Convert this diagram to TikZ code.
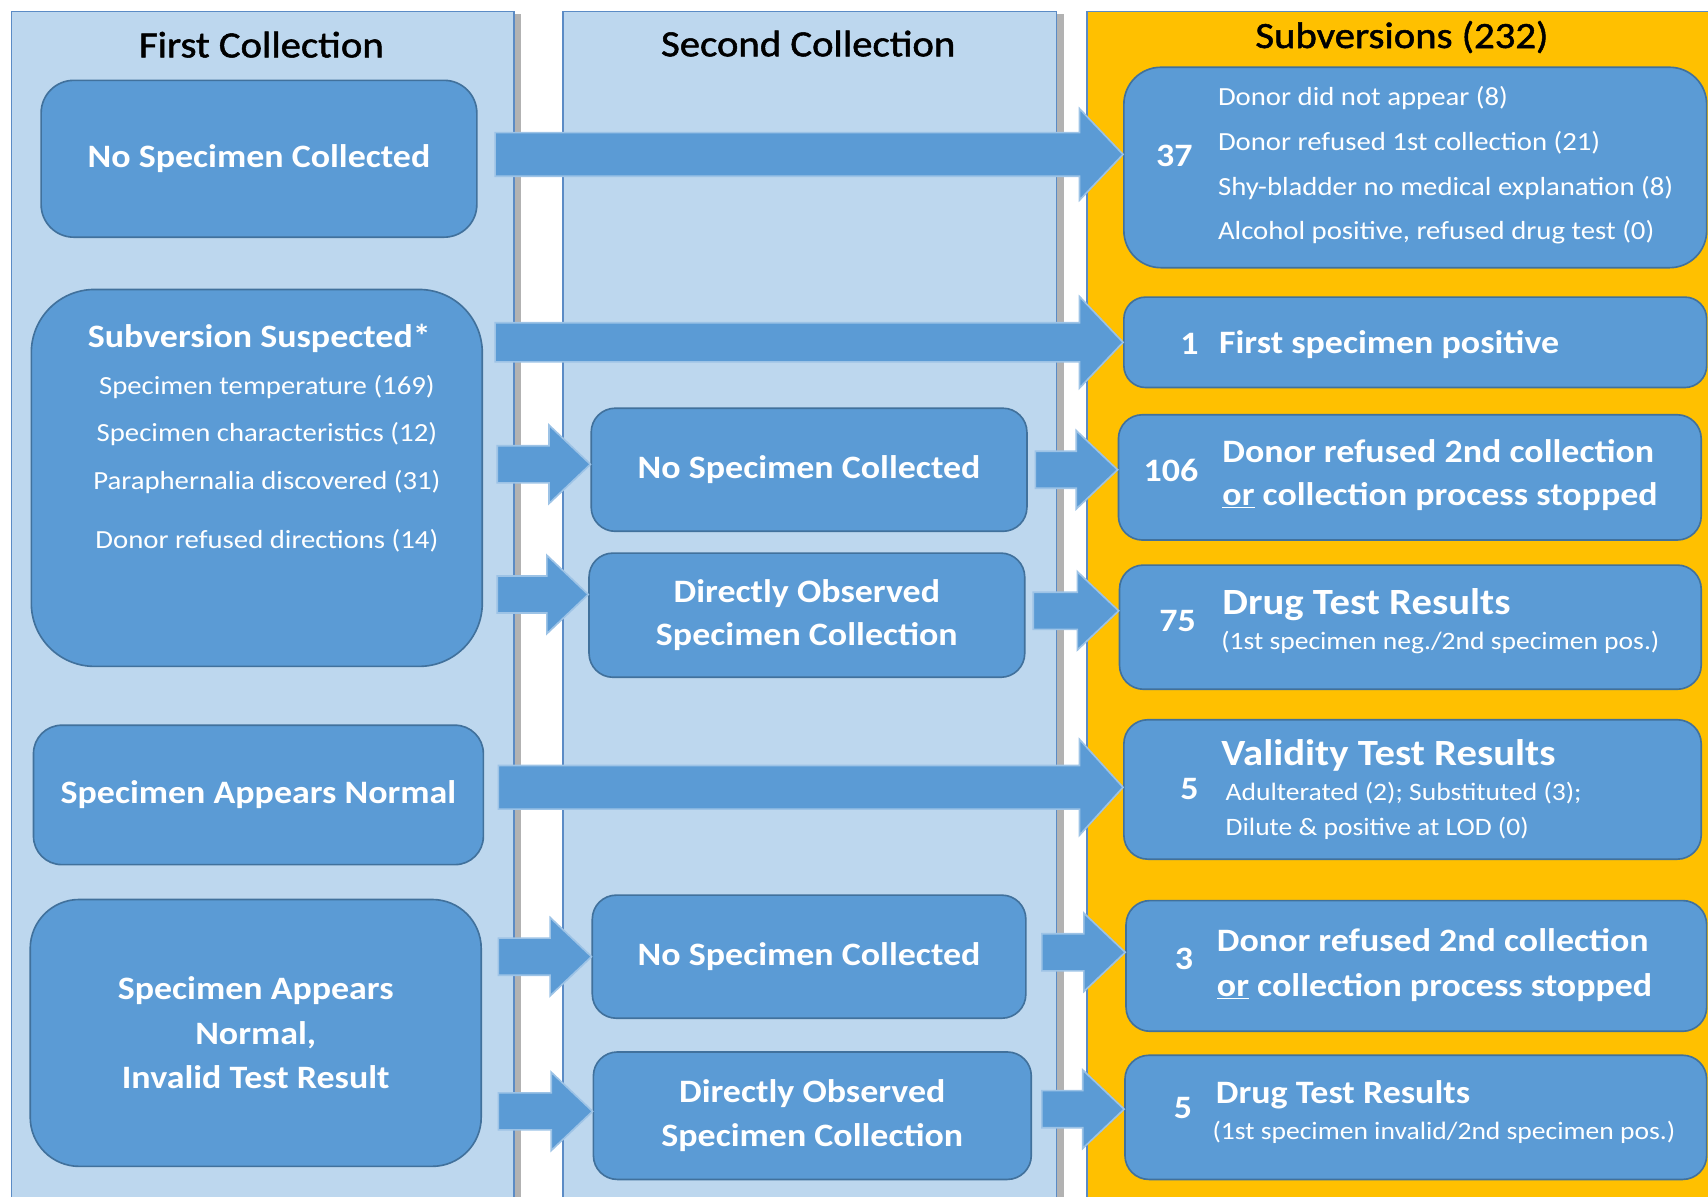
\documentclass[tikz,border=0pt]{standalone}
\usepackage{fontspec}
\setmainfont{Carlito}[FakeStretch=1.1]
\newfontfamily\lanefamily{Carlito}[FakeStretch=1.1, FakeBold=1.4]
\usetikzlibrary{calc, shadows}
\definecolor{lanefill}{HTML}{BDD7EE}
\definecolor{laneedge}{HTML}{5B8BC5}
\definecolor{boxblue}{HTML}{5B9BD5}
\definecolor{boxedge}{HTML}{41719C}
\definecolor{arrowedge}{HTML}{9DC3E6}
\definecolor{gold}{HTML}{FFC000}
\tikzset{
  lane/.style={draw=laneedge, line width=1.4pt, fill=lanefill,
    drop shadow={shadow xshift=7pt, shadow yshift=-2pt, opacity=.3, fill=black}},
  lanehead/.style={font=\lanefamily\fontsize{34}{40}\selectfont, text=black},
  stepbox/.style={draw=boxedge, line width=1.5pt, fill=boxblue, rounded corners=22pt,
    text=white, font=\boxtext, align=center, inner sep=0pt},
  tally/.style={text=white, font=\boxtext},
  itemlist/.style={text=white, font=\listtext, align=left, inner sep=0pt},
  resulthead/.style={text=white, font=\bfseries\fontsize{34}{40}\selectfont, inner sep=0pt},
  subnote/.style={text=white, font=\fontsize{23}{32}\selectfont, inner sep=0pt},
  bluearrow/.style={fill=boxblue, draw=arrowedge, line width=1.5pt, line join=miter}
}
\newcommand{\boxtext}{\bfseries\fontsize{30}{41}\selectfont}
\newcommand{\listtext}{\fontsize{24}{41}\selectfont}
% block arrow: start, tip, half shaft, half head, head length
\newcommand{\blockarrow}[5]{%
  \draw[bluearrow] let \p1=(#1), \p2=(#2) in
    (\x1,\y2+#3) -- (\x2-#5,\y2+#3) -- (\x2-#5,\y2+#4) -- (\x2,\y2)
    -- (\x2-#5,\y2-#4) -- (\x2-#5,\y2-#3) -- (\x1,\y2-#3) -- cycle;}

\begin{document}
\begin{tikzpicture}[x=1pt,y=-1pt]
\useasboundingbox (0,0) rectangle (1568,1098);
\clip (0,0) rectangle (1568,1098);

% three lanes
\node[lane, minimum width=461pt, minimum height=1120pt, anchor=north west] (lane-first) at (10,10) {};
\node[lane, minimum width=453pt, minimum height=1120pt, anchor=north west] (lane-second) at (516,10) {};
\node[lane, fill=gold, minimum width=600pt, minimum height=1120pt, anchor=north west] (lane-subv) at (997,10) {};

\node[lanehead] (head-first) at (240,41) {First Collection};
\node[lanehead] (head-second) at (742,40) {Second Collection};
\node[lanehead] (head-subv) at (1287,34) {Subversions (232)};

% first collection
\node[stepbox, rounded corners=30pt, minimum width=400pt, minimum height=144pt, anchor=north west] (first-none) at (37,73) {No Specimen Collected};
\node[stepbox, rounded corners=58pt, minimum width=414pt, minimum height=346pt, anchor=north west] (suspect) at (28,265) {};
\node[text=white, font=\boxtext] (suspect-head) at (238,311) {Subversion Suspected*};
\node[itemlist, align=center, font=\fontsize{24}{44}\selectfont, anchor=north] (suspect-list) at (245,344)
{Specimen temperature (169)\\Specimen characteristics (12)\\Paraphernalia discovered (31)\\[10pt]Donor refused directions (14)};
\node[stepbox, rounded corners=26pt, minimum width=413pt, minimum height=128pt, anchor=north west] (normal) at (30,665) {Specimen Appears Normal};
\node[stepbox, rounded corners=45pt, minimum width=414pt, minimum height=245pt, anchor=north west] (invalid) at (27,825) {Specimen Appears\\Normal,\\Invalid Test Result};

% second collection
\node[stepbox, minimum width=400pt, minimum height=113pt, anchor=north west] (second-none) at (542,374) {No Specimen Collected};
\node[stepbox, minimum width=400pt, minimum height=114pt, anchor=north west] (observed) at (540,507) {Directly Observed\\[-2pt]Specimen Collection};
\node[stepbox, minimum width=398pt, minimum height=113pt, anchor=north west] (second-none-b) at (543,821) {No Specimen Collected};
\node[stepbox, minimum width=402pt, minimum height=117pt, anchor=north west] (observed-b) at (544,965) {Directly Observed\\Specimen Collection};

% subversions
\node[stepbox, rounded corners=34pt, minimum width=535pt, minimum height=184pt, anchor=north west] (none-out) at (1031,61) {};
\node[tally] (n-37) at (1078,143) {37};
\node[itemlist, anchor=west] (none-list) at (1118,152)
{Donor did not appear (8)\\Donor refused 1st collection (21)\\Shy-bladder no medical explanation (8)\\Alcohol positive, refused drug test (0)};

\node[stepbox, rounded corners=20pt, minimum width=535pt, minimum height=83pt, anchor=north west] (first-pos) at (1031,272) {};
\node[tally] (n-1) at (1092,316) {1};
\node[text=white, font=\boxtext, inner sep=0pt, anchor=west] (first-pos-text) at (1119,316) {First specimen positive};

\node[stepbox, minimum width=535pt, minimum height=115pt, anchor=north west] (refused) at (1026,380) {};
\node[tally] (n-106) at (1075,432) {106};
\node[itemlist, font=\bfseries\fontsize{30}{40}\selectfont, anchor=west] (refused-text) at (1122,436)
{Donor refused 2nd collection\\\underline{or} collection process stopped};

\node[stepbox, minimum width=534pt, minimum height=114pt, anchor=north west] (neg-pos) at (1027,518) {};
\node[tally] (n-75) at (1081,570) {75};
\node[resulthead, anchor=base west] (neg-pos-head) at (1122,564) {Drug Test Results};
\node[subnote, anchor=base west] (neg-pos-note) at (1121,596) {(1st specimen neg./2nd specimen pos.)};

\node[stepbox, minimum width=530pt, minimum height=128pt, anchor=north west] (validity) at (1031,660) {};
\node[tally] (n-5) at (1092,724) {5};
\node[resulthead, anchor=base west] (validity-head) at (1121,703) {Validity Test Results};
\node[subnote, anchor=base west] (validity-a) at (1125,735) {Adulterated (2); Substituted (3);};
\node[subnote, anchor=base west] (validity-b) at (1125,767) {Dilute \& positive at LOD (0)};

\node[stepbox, minimum width=533pt, minimum height=120pt, anchor=north west] (refused-b) at (1033,826) {};
\node[tally] (n-3) at (1087,880) {3};
\node[itemlist, font=\bfseries\fontsize{30}{41}\selectfont, anchor=west] (refused-b-text) at (1117,886)
{Donor refused 2nd collection\\\underline{or} collection process stopped};

\node[stepbox, minimum width=534pt, minimum height=114pt, anchor=north west] (inv-pos) at (1032,968) {};
\node[tally] (n-5b) at (1086,1017) {5};
\node[resulthead, font=\bfseries\fontsize{30}{36}\selectfont, anchor=base west] (inv-pos-head) at (1116,1013) {Drug Test Results};
\node[subnote, anchor=base west] (inv-pos-note) at (1113,1046) {(1st specimen invalid/2nd specimen pos.)};

% arrows
\blockarrow{[xshift=16pt]first-none.east}{[yshift=4pt]first-none.east -| none-out.west}{20pt}{42pt}{40pt}
\blockarrow{[xshift=11pt]suspect.east}{first-pos.west}{18pt}{42pt}{40pt}
\blockarrow{[xshift=13pt]suspect.east}{[yshift=5pt]second-none.west}{17pt}{36pt}{38pt}
\blockarrow{[xshift=13pt]suspect.east}{[yshift=19pt]observed.west}{17pt}{36pt}{38pt}
\blockarrow{[xshift=7pt]second-none.east}{second-none.east -| refused.west}{17pt}{36pt}{38pt}
\blockarrow{[xshift=7pt]observed.east}{[yshift=4pt]observed.east -| neg-pos.west}{17pt}{36pt}{38pt}
\blockarrow{[xshift=13pt]normal.east}{[yshift=7pt]normal.east -| validity.west}{20pt}{44pt}{40pt}
\blockarrow{[xshift=15pt]invalid.east}{second-none-b.west}{17pt}{36pt}{38pt}
\blockarrow{[xshift=15pt]invalid.east}{[yshift=4pt]observed-b.west}{17pt}{36pt}{38pt}
\blockarrow{[xshift=14pt]second-none-b.east}{[yshift=4pt]second-none-b.east -| refused-b.west}{17pt}{36pt}{38pt}
\blockarrow{[xshift=9pt]observed-b.east}{[yshift=6pt]observed-b.east -| inv-pos.west}{17pt}{36pt}{38pt}

\end{tikzpicture}
\end{document}
